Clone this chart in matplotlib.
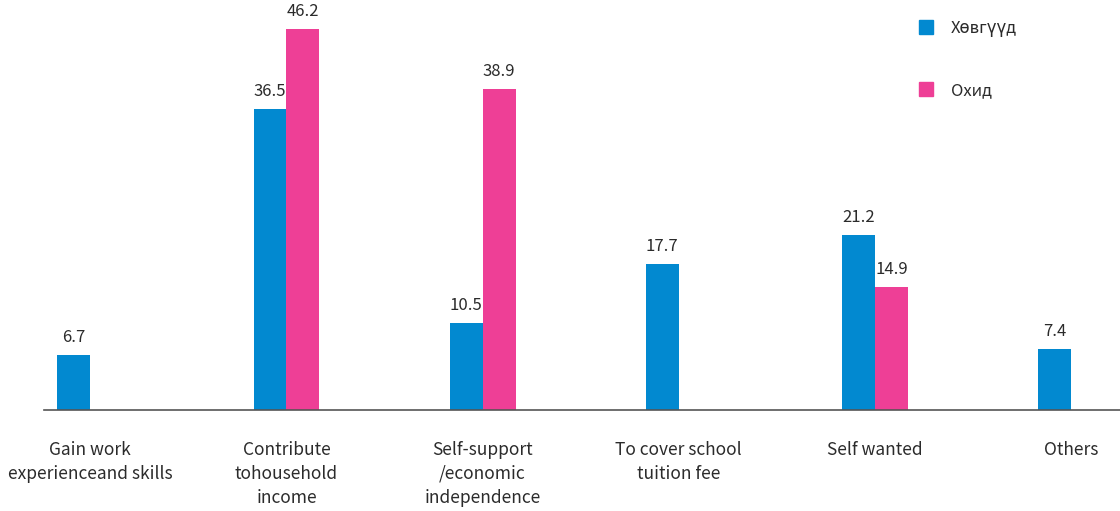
import matplotlib
matplotlib.use("Agg")
import matplotlib.pyplot as plt
import numpy as np
from matplotlib.lines import Line2D

plt.rcParams["font.family"] = ["Noto Sans CJK KR", "DejaVu Sans"]

categories = [
    "Gain work\nexperienceand skills",
    "Contribute\ntohousehold\nincome",
    "Self-support\n/economic\nindependence",
    "To cover school\ntuition fee",
    "Self wanted",
    "Others",
]
boys = [6.7, 36.5, 10.5, 17.7, 21.2, 7.4]
girls = [None, 46.2, 38.9, None, 14.9, None]
series_names = ["Хөвгүүд", "Охид"]

BLUE = "#0289d0"
PINK = "#ee3f96"
TEXT = "#2b2b2b"

fig = plt.figure(figsize=(11.2, 5.11), dpi=100)
ax = fig.add_axes([0.0395, 0.1977, 0.9605, 0.8023])

x = np.arange(len(categories))
w = 0.168
for i in x:
    ax.bar(i - w / 2, boys[i], width=w, color=BLUE)
    ax.text(i - w / 2, boys[i] + 1.1, f"{boys[i]:.1f}", ha="center", va="bottom",
            fontsize=12, color=TEXT)
    if girls[i] is not None:
        ax.bar(i + w / 2, girls[i], width=w, color=PINK)
        ax.text(i + w / 2, girls[i] + 1.1, f"{girls[i]:.1f}", ha="center", va="bottom",
                fontsize=12, color=TEXT)

ax.set_xlim(-0.235, 5.25)
ax.set_ylim(0, 410 / 8.25)
ax.set_xticks(x)
ax.set_xticklabels(categories, fontsize=12.5, color=TEXT, linespacing=1.45)
ax.tick_params(axis="x", length=0, pad=22)
ax.set_yticks([])
for s in ["top", "right", "left"]:
    ax.spines[s].set_visible(False)
ax.spines["bottom"].set_color("#555555")
ax.spines["bottom"].set_linewidth(1.2)

handles = [
    Line2D([], [], marker="s", ls="", color=BLUE, markersize=9.5),
    Line2D([], [], marker="s", ls="", color=PINK, markersize=9.5),
]
leg = fig.legend(handles, series_names, loc="upper left", bbox_to_anchor=(0.806, 0.99),
                 frameon=False, fontsize=12, labelspacing=2.7, handletextpad=1.0,
                 handlelength=1.0)
for t in leg.get_texts():
    t.set_color(TEXT)

fig.savefig("out.png", dpi=100)
